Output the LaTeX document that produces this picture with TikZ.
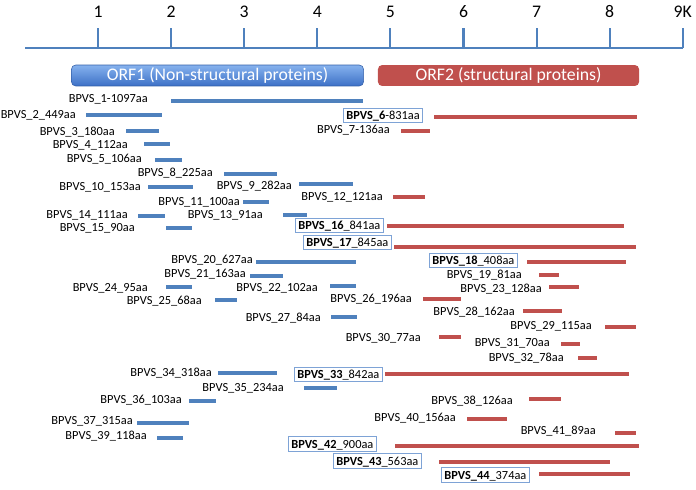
\documentclass[tikz,border=0pt]{standalone}
\usepackage{fontspec}
\setmainfont{Carlito}
\definecolor{nsblue}{HTML}{4F81BD}
\definecolor{nsred}{HTML}{C0504D}
\definecolor{boxline}{HTML}{7EA3D6}
\definecolor{orftop}{HTML}{86B2EE}
\definecolor{orfbot}{HTML}{3C70C6}
\newcommand{\lblsize}{\fontsize{8.8}{10}\selectfont}

\begin{document}
\begin{tikzpicture}[x=0.025cm, y=-0.025cm,
  axis/.style={nsblue, line width=1.5pt},
  ticklbl/.style={font=\fontsize{12.6}{14}\selectfont, anchor=base, inner sep=0pt},
  orf/.style={rounded corners=3pt, text=white, font=\fontsize{12.6}{14}\selectfont, minimum width=207.7pt, minimum height=14.9pt, inner sep=0pt},
  lbl/.style={font=\lblsize, anchor=east, inner sep=0pt, text height=5.7pt, text depth=0pt},
  bxl/.style={draw=boxline, line width=0.7pt, font=\lblsize, anchor=west, inner xsep=2pt, inner ysep=2.45pt, text height=5.7pt, text depth=0pt},
  ns/.style={nsblue, line width=2.9pt},
  sp/.style={nsred, line width=2.9pt}]
\useasboundingbox (0,0) rectangle (696,489);
\draw[axis] (25,48) -- (683,48);
\foreach \k/\t in {1/1,2/2,3/3,4/4,5/5,6/6,7/7,8/8,9/9K} {
  \draw[axis] ({98+73.1*(\k-1)},28) -- ({98+73.1*(\k-1)},48);
  \node[ticklbl] (t\k) at ({98+73.1*(\k-1)},17.5) {\t};
}
\node[orf, top color=orftop, bottom color=orfbot, draw=orfbot!85!black, line width=0.4pt] (orf1) at (217.5,75.5) {ORF1 (Non-structural proteins)};
\node[orf, fill=nsred, minimum width=185.7pt] (orf2) at (508.5,75.5) {ORF2 (structural proteins)};

\node[lbl] (p1) at (148,98) {BPVS\_1-1097aa};
\draw[ns] (171,101) -- (363,101);
\node[lbl] (p2) at (76,114) {BPVS\_2\_449aa};
\draw[ns] (86,115) -- (162,115);
\node[lbl] (p3) at (115,131) {BPVS\_3\_180aa};
\draw[ns] (126,131) -- (159,131);
\node[lbl] (p4) at (128,144) {BPVS\_4\_112aa};
\draw[ns] (144,144) -- (170,144);
\node[lbl] (p5) at (142,158) {BPVS\_5\_106aa};
\draw[ns] (155,160) -- (182,160);
\node[bxl] (p6) at (343,115.5) {\textbf{BPVS\_6}-831aa};
\draw[sp] (434,117) -- (637,117);
\node[lbl] (p7) at (390,129) {BPVS\_7-136aa};
\draw[sp] (401,131) -- (430,131);
\node[lbl] (p8) at (213,172) {BPVS\_8\_225aa};
\draw[ns] (224,174) -- (277,174);
\node[lbl] (p9) at (292,185) {BPVS\_9\_282aa};
\draw[ns] (299,184) -- (353,184);
\node[lbl] (p10) at (141,186) {BPVS\_10\_153aa};
\draw[ns] (148,187) -- (193,187);
\node[lbl] (p11) at (240,201) {BPVS\_11\_100aa};
\draw[ns] (243,202) -- (269,202);
\node[lbl] (p12) at (383,196) {BPVS\_12\_121aa};
\draw[sp] (393,197) -- (425,197);
\node[lbl] (p13) at (263,214) {BPVS\_13\_91aa};
\draw[ns] (283,215) -- (307,215);
\node[lbl] (p14) at (128,214) {BPVS\_14\_111aa};
\draw[ns] (138,216) -- (165,216);
\node[lbl] (p15) at (135,227) {BPVS\_15\_90aa};
\draw[ns] (166,228) -- (192,228);
\node[bxl] (p16) at (295,225.5) {\textbf{BPVS\_16}\_841aa};
\draw[sp] (387,226) -- (624,226);
\node[bxl] (p17) at (303,242.5) {\textbf{BPVS\_17}\_845aa};
\draw[sp] (394,247) -- (636,247);
\node[bxl] (p18) at (429,260.5) {\textbf{BPVS\_18}\_408aa};
\draw[sp] (527,262) -- (626,262);
\node[lbl] (p19) at (522,274) {BPVS\_19\_81aa};
\draw[sp] (539,275) -- (559,275);
\node[lbl] (p20) at (253,259) {BPVS\_20\_627aa};
\draw[ns] (256,262) -- (356,262);
\node[lbl] (p21) at (246,273) {BPVS\_21\_163aa};
\draw[ns] (250,276) -- (283,276);
\node[lbl] (p22) at (318,287) {BPVS\_22\_102aa};
\draw[ns] (330,286) -- (356,286);
\node[lbl] (p23) at (542,288) {BPVS\_23\_128aa};
\draw[sp] (549,287) -- (579,287);
\node[lbl] (p24) at (148,287) {BPVS\_24\_95aa};
\draw[ns] (166,287) -- (192,287);
\node[lbl] (p25) at (202,300) {BPVS\_25\_68aa};
\draw[ns] (215,300) -- (237,300);
\node[lbl] (p26) at (412,298) {BPVS\_26\_196aa};
\draw[sp] (423,299) -- (461,299);
\node[lbl] (p27) at (321,317) {BPVS\_27\_84aa};
\draw[ns] (331,317) -- (357,317);
\node[lbl] (p28) at (515,311) {BPVS\_28\_162aa};
\draw[sp] (523,311) -- (562,311);
\node[lbl] (p29) at (592,325) {BPVS\_29\_115aa};
\draw[sp] (605,327) -- (636,327);
\node[lbl] (p30) at (421,337) {BPVS\_30\_77aa};
\draw[sp] (439,337) -- (461,337);
\node[lbl] (p31) at (550,342) {BPVS\_31\_70aa};
\draw[sp] (561,344) -- (580,344);
\node[lbl] (p32) at (564,357) {BPVS\_32\_78aa};
\draw[sp] (578,358) -- (597,358);
\node[bxl] (p33) at (294,374.5) {\textbf{BPVS\_33}\_842aa};
\draw[sp] (385,374) -- (629,374);
\node[lbl] (p34) at (212,372) {BPVS\_34\_318aa};
\draw[ns] (218,373) -- (277,373);
\node[lbl] (p35) at (284,387) {BPVS\_35\_234aa};
\draw[ns] (304,388) -- (337,388);
\node[lbl] (p36) at (182,399) {BPVS\_36\_103aa};
\draw[ns] (189,401) -- (216,401);
\node[lbl] (p37) at (133,420) {BPVS\_37\_315aa};
\draw[ns] (137,423) -- (189,423);
\node[lbl] (p38) at (513,400) {BPVS\_38\_126aa};
\draw[sp] (529,399) -- (561,399);
\node[lbl] (p39) at (147,435) {BPVS\_39\_118aa};
\draw[ns] (157,438) -- (183,438);
\node[lbl] (p40) at (456,417) {BPVS\_40\_156aa};
\draw[sp] (467,419) -- (507,419);
\node[lbl] (p41) at (596,430) {BPVS\_41\_89aa};
\draw[sp] (615,433) -- (636,433);
\node[bxl] (p42) at (288,444) {\textbf{BPVS\_42}\_900aa};
\draw[sp] (395,446) -- (639,446);
\node[bxl] (p43) at (333,461) {\textbf{BPVS\_43}\_563aa};
\draw[sp] (439,462) -- (610,462);
\node[bxl] (p44) at (441,475) {\textbf{BPVS\_44}\_374aa};
\draw[sp] (539,474) -- (630,474);
\end{tikzpicture}
\end{document}
